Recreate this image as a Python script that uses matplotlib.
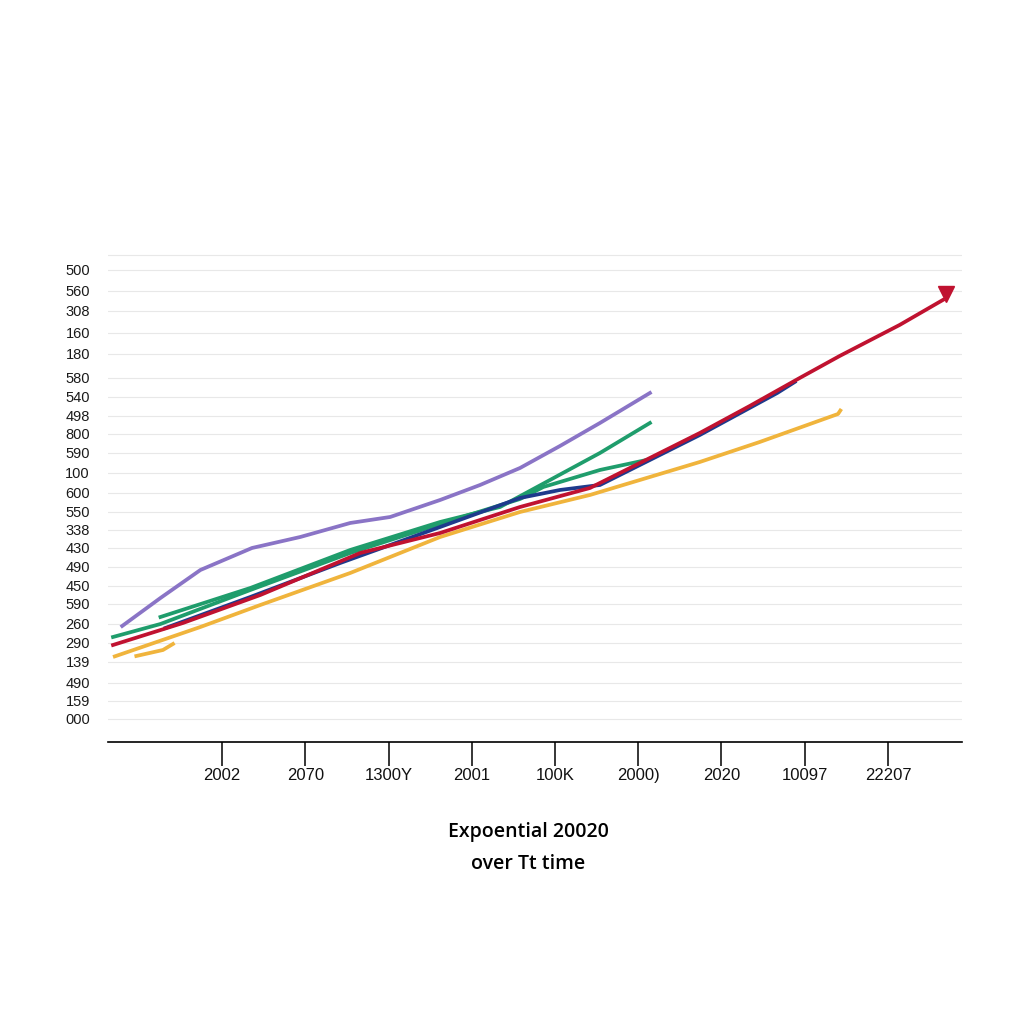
import matplotlib.pyplot as plt

# valores (eje x en posiciones de marca, eje y en unidades arbitrarias)
x_ticks = [1, 2, 3, 4, 5, 6, 7, 8, 9]
x_labels = ["2002", "2070", "1300Y", "2001", "100K", "2000)", "2020", "10097", "22207"]

y_ticks = [47.2, 45.1, 43.1, 40.9, 38.8, 36.4, 34.5, 32.6, 30.8, 28.9, 26.9, 24.9,
           23.0, 21.2, 19.4, 17.5, 15.6, 13.8, 11.8, 9.9, 8.0, 5.9, 4.1, 2.3]
y_labels = ["500", "560", "308", "160", "180", "580", "540", "498", "800", "590", "100", "600",
            "550", "338", "430", "490", "450", "590", "260", "290", "139", "490", "159", "000"]

purple_x = [-0.20, 0.26, 0.74, 1.36, 1.94, 2.54, 3.02, 3.62, 4.10, 4.58, 5.06, 5.54, 6.14]
purple_y = [11.6, 14.4, 17.2, 19.4, 20.5, 21.9, 22.5, 24.2, 25.7, 27.4, 29.6, 31.9, 34.9]

green_a_x = [0.26, 1.34, 2.54, 3.62, 4.34, 4.94, 5.54, 6.14]
green_a_y = [12.5, 15.4, 19.2, 22.0, 23.5, 26.2, 28.9, 31.9]

green_b_x = [-0.31, 0.26, 1.34, 2.54, 3.62, 4.58, 4.86, 5.54, 6.10]
green_b_y = [10.5, 11.8, 15.2, 18.9, 21.8, 24.3, 25.5, 27.2, 28.2]

blue_x = [0.32, 1.34, 2.42, 3.62, 4.58, 5.06, 5.54, 6.14, 6.74, 7.67, 7.88]
blue_y = [11.4, 14.5, 17.9, 21.5, 24.4, 25.2, 25.7, 28.2, 30.7, 34.9, 36.0]

red_x = [-0.31, 0.53, 1.46, 2.66, 3.62, 4.58, 5.42, 6.14, 6.74, 7.34, 7.94, 8.42, 9.14, 9.66]
red_y = [9.7, 11.9, 14.7, 18.9, 20.9, 23.5, 25.4, 28.4, 30.9, 33.6, 36.4, 38.6, 41.7, 44.2]

yellow_x = [-0.31, 0.74, 1.46, 2.54, 3.62, 4.58, 5.42, 6.14, 6.74, 7.46, 8.40, 8.44]
yellow_y = [8.5, 11.5, 13.7, 16.9, 20.5, 23.0, 24.7, 26.5, 28.0, 30.0, 32.8, 33.3]

yellow_short_x = [-0.03, 0.29, 0.41]
yellow_short_y = [8.6, 9.2, 9.8]

if __name__ == "__main__":
    fig = plt.figure(figsize=(10.24, 10.24), dpi=100)
    ax = fig.add_axes([0.1055, 0.2754, 0.834, 0.4805])

    lw = 2.7
    ax.plot(yellow_x, yellow_y, color='#f0b43c', lw=lw, zorder=2, solid_capstyle='butt')
    ax.plot(yellow_short_x, yellow_short_y, color='#f0b43c', lw=lw, zorder=2)
    ax.plot(green_b_x, green_b_y, color='#1f9d6c', lw=lw, zorder=3)
    ax.plot(green_a_x, green_a_y, color='#1f9d6c', lw=lw, zorder=3)
    ax.plot(purple_x, purple_y, color='#8a74c6', lw=lw, zorder=3)
    ax.plot(blue_x, blue_y, color='#1e3a8c', lw=lw, zorder=4)
    ax.plot(red_x, red_y, color='#c01230', lw=lw, zorder=5)
    # punta de flecha al final de la linea roja
    ax.plot([red_x[-1] + 0.04], [red_y[-1] + 0.6], marker='v', markersize=11,
            color='#c01230', zorder=6)

    ax.set_xlim(-0.37, 9.89)
    ax.set_ylim(0, 49.2)

    ax.set_yticks(y_ticks)
    ax.set_yticklabels(y_labels, fontsize=10.5, color='#1a1a1a', family='Liberation Sans')
    ax.tick_params(axis='y', length=0, pad=13)
    ax.set_xticks(x_ticks)
    ax.set_xticklabels(x_labels, fontsize=12, color='#111111',
                       family=['Liberation Sans Narrow', 'Liberation Sans'])
    ax.tick_params(axis='x', length=17, width=1.1, direction='out', pad=2)

    ax.grid(axis='y', color='#e8e8e8', linewidth=0.8, zorder=0)
    ax.axhline(48.7, color='#e8e8e8', linewidth=0.8, zorder=0)
    for s in ['top', 'right', 'left']:
        ax.spines[s].set_visible(False)
    ax.spines['bottom'].set_linewidth(1.2)

    fig.text(0.516, 1 - 832 / 1024, 'Expoential 20020', ha='center', va='center',
             fontsize=14, fontweight='semibold', family='Open Sans')
    fig.text(0.516, 1 - 864 / 1024, 'over Tt time', ha='center', va='center',
             fontsize=14, fontweight='semibold', family='Open Sans')

    fig.savefig('out.png', dpi=100)
